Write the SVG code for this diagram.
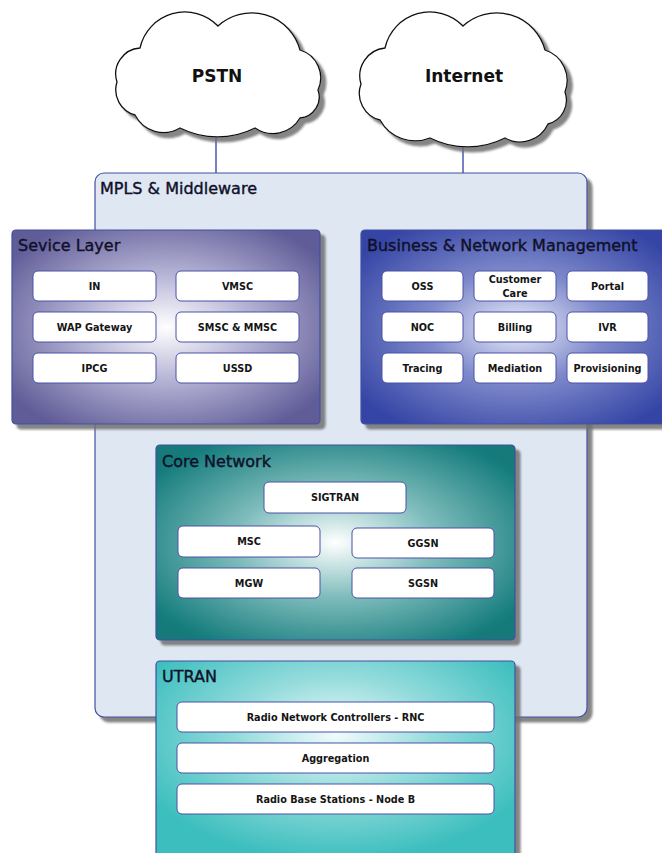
<svg xmlns="http://www.w3.org/2000/svg" width="662" height="853" viewBox="0 0 662 853">
<defs>
<filter id="sh" x="-10%" y="-10%" width="130%" height="130%">
<feDropShadow dx="5" dy="5" stdDeviation="1.3" flood-color="#707070" flood-opacity="0.85"/>
</filter>
<radialGradient id="gSvc" cx="0.5" cy="0.5" r="0.62">
<stop offset="0" stop-color="#ffffff"/>
<stop offset="0.45" stop-color="#b4b2d4"/>
<stop offset="1" stop-color="#5f5b97"/>
</radialGradient>
<radialGradient id="gBiz" cx="0.5" cy="0.5" r="0.62">
<stop offset="0" stop-color="#eceefa"/>
<stop offset="0.45" stop-color="#7f8acb"/>
<stop offset="1" stop-color="#3545a5"/>
</radialGradient>
<radialGradient id="gCore" cx="0.5" cy="0.5" r="0.62">
<stop offset="0" stop-color="#ffffff"/>
<stop offset="0.45" stop-color="#7fbcbc"/>
<stop offset="1" stop-color="#127a7a"/>
</radialGradient>
<radialGradient id="gUtran" cx="0.5" cy="0.35" r="0.6">
<stop offset="0" stop-color="#f2fbfb"/>
<stop offset="0.45" stop-color="#96dcdc"/>
<stop offset="1" stop-color="#3cbebe"/>
</radialGradient>
</defs>
<style>
.cont{stroke:#4250a2;stroke-width:1.2}
.box{fill:#ffffff;stroke:#4a52a6;stroke-width:1}
.cloud{fill:#ffffff;stroke:#111111;stroke-width:1.3}
.title{font-family:"DejaVu Sans",sans-serif;font-size:16px;fill:#10102a;stroke:#10102a;stroke-width:0.4}
.lbl{font-family:"DejaVu Sans",sans-serif;font-size:9.7px;font-weight:bold;fill:#151515;text-anchor:middle}
.ctext{font-family:"DejaVu Sans",sans-serif;font-size:17px;font-weight:bold;fill:#111111;text-anchor:middle}
.conn{stroke:#3c4cb0;stroke-width:1.4;fill:none}
</style>

<g id="connectors">
<line class="conn" x1="216" y1="136" x2="216" y2="174"/>
<line class="conn" x1="463" y1="145" x2="463" y2="174"/>
</g>

<g id="pstn">
<path class="cloud" filter="url(#sh)" d="M117,82 A26,26 0 0,1 140,48 A46,46 0 0,1 218,26 A50,50 0 0,1 300,50 A29,29 0 0,1 318,90 A21,21 0 0,1 300,118 A31.5,31.5 0 0,1 255,128 A83,83 0 0,1 180,128 A32,32 0 0,1 135,115 A26,26 0 0,1 117,82 Z"/>
<text class="ctext" x="217" y="82">PSTN</text>
</g>

<g id="internet">
<path class="cloud" filter="url(#sh)" d="M361,84 A28,28 0 0,1 385,48 A46,46 0 0,1 463,26 A50,50 0 0,1 545,50 A32,32 0 0,1 565,92 A24.5,24.5 0 0,1 548,124 A30.6,30.6 0 0,1 505,138 A83,83 0 0,1 430,138 A40,40 0 0,1 380,120 A27.4,27.4 0 0,1 361,84 Z"/>
<text class="ctext" x="464" y="82">Internet</text>
</g>

<g id="mpls">
<rect x="95" y="173" width="492" height="544" rx="9" fill="#dfe7f3" class="cont" filter="url(#sh)"/>
<text class="title" x="100" y="194">MPLS &amp; Middleware</text>
</g>

<g id="service-layer">
<rect x="12" y="230" width="308" height="194" rx="4" fill="url(#gSvc)" class="cont" filter="url(#sh)"/>
<text class="title" x="18" y="251">Sevice Layer</text>
<rect class="box" x="33" y="271" width="123" height="30" rx="5"/>
<text class="lbl" x="94.5" y="289.5">IN</text>
<rect class="box" x="176" y="271" width="123" height="30" rx="5"/>
<text class="lbl" x="237.5" y="289.5">VMSC</text>
<rect class="box" x="33" y="312" width="123" height="30" rx="5"/>
<text class="lbl" x="94.5" y="330.5">WAP Gateway</text>
<rect class="box" x="176" y="312" width="123" height="30" rx="5"/>
<text class="lbl" x="237.5" y="330.5">SMSC &amp; MMSC</text>
<rect class="box" x="33" y="353" width="123" height="30" rx="5"/>
<text class="lbl" x="94.5" y="371.5">IPCG</text>
<rect class="box" x="176" y="353" width="123" height="30" rx="5"/>
<text class="lbl" x="237.5" y="371.5">USSD</text>
</g>

<g id="business-network-management">
<rect x="361" y="230" width="310" height="194" rx="4" fill="url(#gBiz)" class="cont" filter="url(#sh)"/>
<text class="title" x="367" y="251">Business &amp; Network Management</text>
<rect class="box" x="382" y="271" width="81" height="30" rx="5"/>
<text class="lbl" x="422.5" y="289.5">OSS</text>
<rect class="box" x="474" y="271" width="82" height="30" rx="5"/>
<text class="lbl" x="515" y="283">Customer</text>
<text class="lbl" x="515" y="296.5">Care</text>
<rect class="box" x="567" y="271" width="81" height="30" rx="5"/>
<text class="lbl" x="607.5" y="289.5">Portal</text>
<rect class="box" x="382" y="312" width="81" height="30" rx="5"/>
<text class="lbl" x="422.5" y="330.5">NOC</text>
<rect class="box" x="474" y="312" width="82" height="30" rx="5"/>
<text class="lbl" x="515" y="330.5">Billing</text>
<rect class="box" x="567" y="312" width="81" height="30" rx="5"/>
<text class="lbl" x="607.5" y="330.5">IVR</text>
<rect class="box" x="382" y="353" width="81" height="30" rx="5"/>
<text class="lbl" x="422.5" y="371.5">Tracing</text>
<rect class="box" x="474" y="353" width="82" height="30" rx="5"/>
<text class="lbl" x="515" y="371.5">Mediation</text>
<rect class="box" x="567" y="353" width="81" height="30" rx="5"/>
<text class="lbl" x="607.5" y="371.5">Provisioning</text>
</g>

<g id="core-network">
<rect x="156" y="445" width="359" height="195" rx="4" fill="url(#gCore)" class="cont" filter="url(#sh)"/>
<text class="title" x="162" y="467">Core Network</text>
<rect class="box" x="264" y="482" width="142" height="31" rx="5"/>
<text class="lbl" x="335" y="501">SIGTRAN</text>
<rect class="box" x="178" y="526" width="142" height="31" rx="5"/>
<text class="lbl" x="249" y="545">MSC</text>
<rect class="box" x="352" y="528" width="142" height="30" rx="5"/>
<text class="lbl" x="423" y="546.5">GGSN</text>
<rect class="box" x="178" y="568" width="142" height="30" rx="5"/>
<text class="lbl" x="249" y="586.5">MGW</text>
<rect class="box" x="352" y="568" width="142" height="30" rx="5"/>
<text class="lbl" x="423" y="586.5">SGSN</text>
</g>

<g id="utran">
<rect x="156" y="661" width="359" height="210" rx="4" fill="url(#gUtran)" class="cont" filter="url(#sh)"/>
<text class="title" x="162" y="682">UTRAN</text>
<rect class="box" x="177" y="702" width="317" height="30" rx="5"/>
<text class="lbl" x="335.5" y="720.5">Radio Network Controllers - RNC</text>
<rect class="box" x="177" y="743" width="317" height="30" rx="5"/>
<text class="lbl" x="335.5" y="761.5">Aggregation</text>
<rect class="box" x="177" y="784" width="317" height="30" rx="5"/>
<text class="lbl" x="335.5" y="802.5">Radio Base Stations - Node B</text>
</g>
</svg>
